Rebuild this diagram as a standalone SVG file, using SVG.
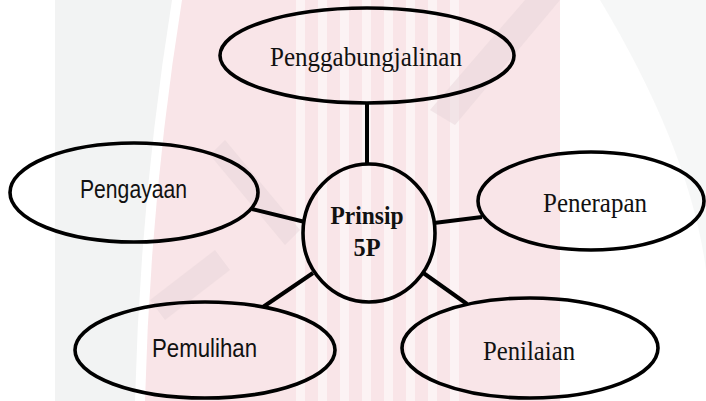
<svg xmlns="http://www.w3.org/2000/svg" width="706" height="401" viewBox="0 0 706 401">
  <style>
    .node { fill: none; stroke: #000; stroke-width: 3.6; }
    .conn { stroke: #000; stroke-width: 4; fill: none; }
    .serif { font-family: "Liberation Serif", "Times New Roman", serif; font-size: 28px; fill: #111; text-anchor: middle; }
    .sans { font-family: "Liberation Sans", Arial, sans-serif; font-size: 25px; fill: #111; text-anchor: middle; }
    .bold { font-weight: bold; font-size: 26px; }
    .wm-pink { fill: #f9e5e8; }
    .wm-gray { fill: #f2f3f3; }
    .wm-band { fill: #e8d6d9; }
    .wm-white { fill: #ffffff; opacity: 0.55; }
  </style>
  <rect x="0" y="0" width="706" height="401" fill="#ffffff"/>
  <g id="watermark">
    <path class="wm-gray" d="M55 0 H172 Q140 200 135 401 H55 Z"/>
    <path class="wm-pink" d="M182 0 H560 V401 H145 Q150 200 182 0 Z"/>
    <path class="wm-gray" d="M600 0 H706 V270 Q690 150 600 0 Z" opacity="0.7"/>
    <g class="wm-white">
      <rect x="296" y="0" width="9" height="401"/>
      <rect x="318" y="0" width="9" height="401"/>
      <rect x="340" y="0" width="9" height="401"/>
      <rect x="362" y="0" width="9" height="401"/>
      <rect x="384" y="0" width="9" height="401"/>
      <rect x="406" y="0" width="9" height="401"/>
      <rect x="428" y="0" width="9" height="401"/>
      <rect x="450" y="0" width="9" height="401"/>
    </g>
    <path class="wm-band" d="M430 110 L525 0 H560 L455 125 Z" opacity="0.5"/>
    <path class="wm-band" d="M225 140 L300 230 L285 245 L210 155 Z" opacity="0.5"/>
    <path class="wm-band" d="M150 300 L215 250 L230 270 L165 320 Z" opacity="0.5"/>
  </g>
  <g id="connectors">
    <line class="conn" x1="367" y1="103" x2="367" y2="165"/>
    <line class="conn" x1="252" y1="209" x2="305" y2="222"/>
    <line class="conn" x1="434" y1="223" x2="482" y2="217"/>
    <line class="conn" x1="313" y1="273" x2="263" y2="307"/>
    <line class="conn" x1="422" y1="272" x2="467" y2="304"/>
  </g>
  <g id="node-center">
    <ellipse class="node" cx="369" cy="233" rx="66" ry="69"/>
    <text class="serif bold" x="367" y="224" textLength="73" lengthAdjust="spacingAndGlyphs">Prinsip</text>
    <text class="serif bold" x="367" y="256" textLength="27" lengthAdjust="spacingAndGlyphs">5P</text>
  </g>
  <g id="node-penggabungjalinan">
    <ellipse class="node" cx="367" cy="55.5" rx="147" ry="47.5"/>
    <text class="serif" x="366" y="66" textLength="192" lengthAdjust="spacingAndGlyphs">Penggabungjalinan</text>
  </g>
  <g id="node-pengayaan">
    <ellipse class="node" cx="134" cy="192.5" rx="124" ry="49.5"/>
    <text class="sans" x="133.5" y="198" textLength="107" lengthAdjust="spacingAndGlyphs">Pengayaan</text>
  </g>
  <g id="node-penerapan">
    <ellipse class="node" cx="591" cy="201" rx="113" ry="49"/>
    <text class="serif" x="595" y="212" textLength="104" lengthAdjust="spacingAndGlyphs">Penerapan</text>
  </g>
  <g id="node-pemulihan">
    <ellipse class="node" cx="205" cy="350" rx="130" ry="48"/>
    <text class="sans" x="204.5" y="357" textLength="105" lengthAdjust="spacingAndGlyphs">Pemulihan</text>
  </g>
  <g id="node-penilaian">
    <ellipse class="node" cx="530" cy="348" rx="128" ry="50"/>
    <text class="serif" x="529" y="360" textLength="92" lengthAdjust="spacingAndGlyphs">Penilaian</text>
  </g>
</svg>
